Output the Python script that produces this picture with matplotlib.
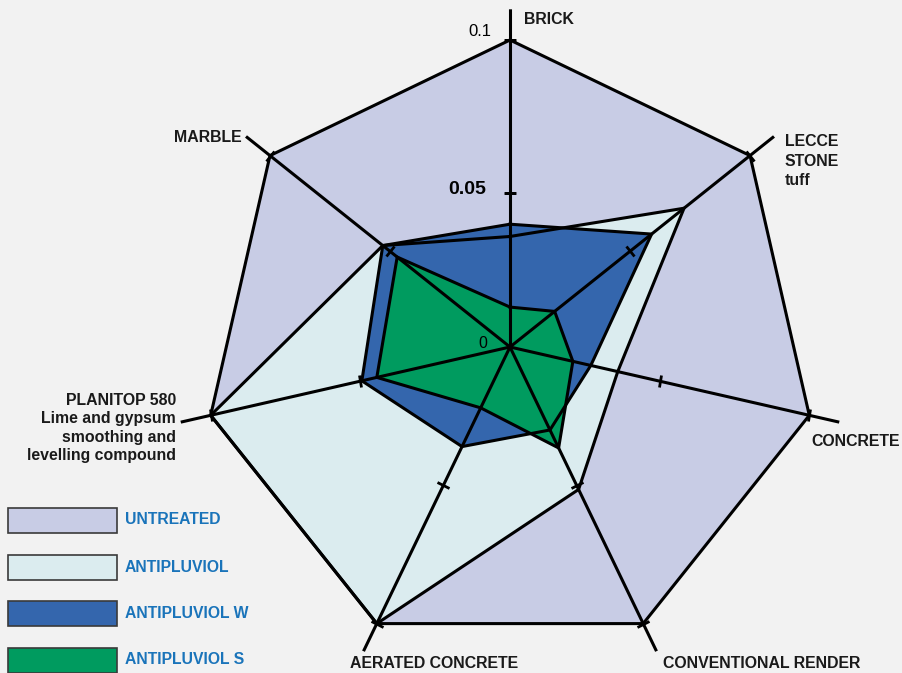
import matplotlib
matplotlib.use("Agg")
import matplotlib.pyplot as plt
import numpy as np
from matplotlib.markers import MarkerStyle
from matplotlib.transforms import Affine2D
from matplotlib.patches import Rectangle

plt.rcParams['font.family'] = ['Liberation Sans', 'DejaVu Sans']

# axes of the radar, clockwise from the top
categories = ['BRICK', 'LECCE\nSTONE\ntuff', 'CONCRETE', 'CONVENTIONAL RENDER',
              'AERATED CONCRETE',
              'PLANITOP 580\nLime and gypsum\nsmoothing and\nlevelling compound',
              'MARBLE']

series_names = ['UNTREATED', 'ANTIPLUVIOL', 'ANTIPLUVIOL W', 'ANTIPLUVIOL S']
untreated = [0.1, 0.1, 0.1, 0.1, 0.1, 0.1, 0.1]
antipluviol = [0.036, 0.0725, 0.036, 0.0515, 0.1, 0.1, 0.053]
antipluviol_w = [0.040, 0.059, 0.027, 0.030, 0.036, 0.0495, 0.053]
antipluviol_s = [0.013, 0.0186, 0.021, 0.0365, 0.022, 0.0445, 0.047]

tick_values = [0.05, 0.1]
colors = ['#c8cce5', '#dbecef', '#3466ad', '#009b5f']
W, H = 902, 673


def px(x, y):
    return x / W, 1 - y / H


fig = plt.figure(figsize=(W / 100, H / 100), dpi=100)
fig.patch.set_facecolor('#f2f2f2')

# polar axes centred on (510, 347) px, r=0.11 -> 337.7 px
rmax = 0.11
R = 307 * rmax / 0.1
ax = fig.add_axes([(510 - R) / W, (H - 347 - R) / H, 2 * R / W, 2 * R / H],
                  projection='polar')
ax.set_theta_zero_location('N')
ax.set_theta_direction(-1)
ax.set_ylim(0, rmax)
ax.axis('off')

n = len(categories)
theta = np.arange(n) * 2 * np.pi / n
theta_c = np.append(theta, theta[0])

all_series = [untreated, antipluviol, antipluviol_w, antipluviol_s]
for i, vals in enumerate(all_series):
    v = np.append(vals, vals[0])
    ax.fill(theta_c, v, color=colors[i], zorder=1 + i, lw=0)
for vals in all_series:
    v = np.append(vals, vals[0])
    ax.plot(theta_c, v, color='black', lw=2.2, zorder=6, solid_joinstyle='miter')

# spokes with small cross ticks
for t in theta:
    ax.plot([t, t], [0, rmax], color='black', lw=2.2, zorder=7)
    m = MarkerStyle('_', transform=Affine2D().rotate_deg(-np.degrees(t)))
    ax.plot([t] * len(tick_values), tick_values, ls='none', marker=m,
            markersize=9, mew=2, color='black', zorder=7)

# scale labels
fig.text(*px(491, 31), '0.1', ha='right', va='center', fontsize=12)
fig.text(*px(486, 189), '0.05', ha='right', va='center', fontsize=14,
         fontweight='bold')
fig.text(*px(487, 343), '0', ha='right', va='center', fontsize=11.5)

# category labels
lab = dict(fontsize=11.4, fontweight='bold', color='#1a1a1a')
fig.text(*px(524, 20), categories[0], ha='left', va='center', **lab)
fig.text(*px(785, 161), categories[1], ha='left', va='center',
         linespacing=1.4, **lab)
fig.text(*px(811, 442), categories[2], ha='left', va='center', **lab)
fig.text(*px(663, 663), categories[3], ha='left', va='center', **lab)
fig.text(*px(350, 664), categories[4], ha='left', va='center', **lab)
fig.text(*px(176, 428), categories[5], ha='right', va='center',
         multialignment='right', linespacing=1.3, **lab)
fig.text(*px(242, 137), categories[6], ha='right', va='center', **lab)

# legend
box_y = [508, 555, 601, 648]
for i, name in enumerate(series_names):
    x0, y0 = px(8, box_y[i] + 25)
    fig.add_artist(Rectangle((x0, y0), 109 / W, 25 / H, transform=fig.transFigure,
                             facecolor=colors[i], edgecolor='#3a3a3a', lw=1.2))
    fig.text(*px(125, box_y[i] + 12), name, ha='left', va='center',
             fontsize=11.3, fontweight='bold', color='#1a74ba')

fig.savefig('out.png', dpi=100, facecolor=fig.get_facecolor())
